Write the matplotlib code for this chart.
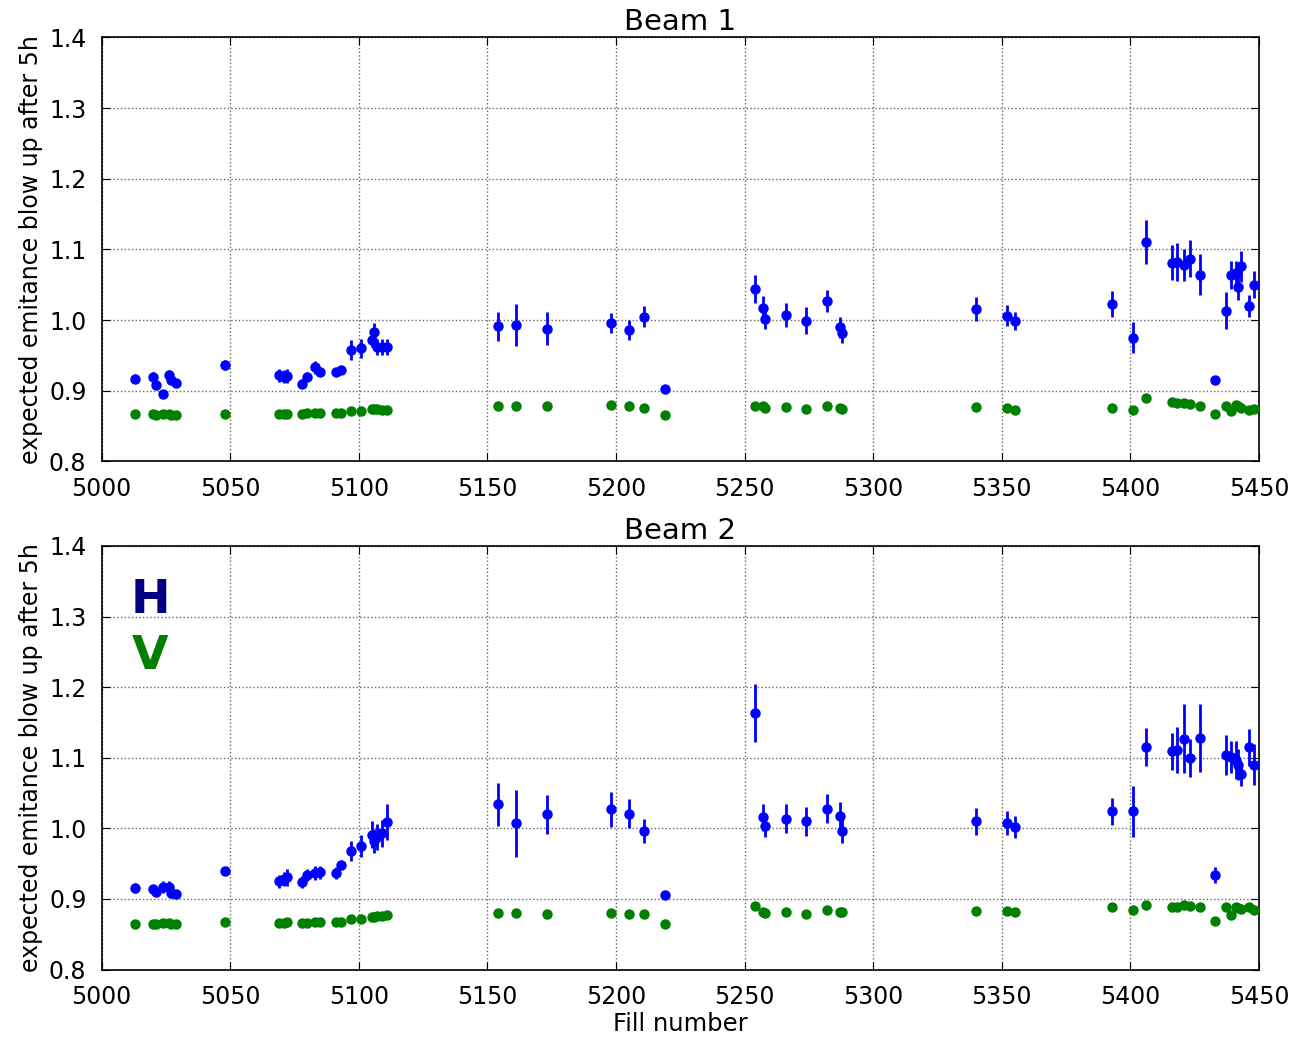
import numpy as np
import matplotlib
matplotlib.use('Agg')
import matplotlib.pyplot as plt

fills = [5013, 5020, 5021, 5024, 5026, 5027, 5029, 5048, 5069, 5071, 5072, 5078,
         5080, 5083, 5085, 5091, 5093, 5097, 5101, 5105, 5106, 5107, 5109, 5111,
         5154, 5161, 5173, 5198, 5205, 5211, 5219, 5254, 5257, 5258, 5266, 5274,
         5282, 5287, 5288, 5340, 5352, 5355, 5393, 5401, 5406, 5416, 5418, 5421,
         5423, 5427, 5433, 5437, 5439, 5441, 5442, 5443, 5446, 5448]

# beam 1
b1_h = [0.917, 0.919, 0.908, 0.896, 0.922, 0.915, 0.911, 0.937, 0.922, 0.920, 0.921, 0.910,
        0.920, 0.933, 0.927, 0.927, 0.929, 0.958, 0.960, 0.972, 0.983, 0.962, 0.962, 0.962,
        0.991, 0.993, 0.988, 0.996, 0.986, 1.005, 0.902, 1.044, 1.017, 1.001, 1.007, 0.999,
        1.027, 0.990, 0.981, 1.015, 1.006, 0.999, 1.023, 0.975, 1.111, 1.081, 1.082, 1.078,
        1.087, 1.064, 0.915, 1.013, 1.064, 1.066, 1.047, 1.076, 1.020, 1.050]
b1_h_err = [0.006, 0.007, 0.006, 0.005, 0.007, 0.006, 0.006, 0.007, 0.009, 0.009, 0.010, 0.006,
            0.006, 0.009, 0.006, 0.005, 0.005, 0.014, 0.013, 0.010, 0.013, 0.011, 0.011, 0.011,
            0.020, 0.030, 0.023, 0.014, 0.014, 0.015, 0.003, 0.020, 0.017, 0.013, 0.017, 0.019,
            0.016, 0.015, 0.013, 0.017, 0.015, 0.013, 0.018, 0.022, 0.031, 0.025, 0.027, 0.023,
            0.026, 0.029, 0.006, 0.026, 0.020, 0.017, 0.018, 0.022, 0.015, 0.019]
b1_v = [0.867, 0.867, 0.866, 0.867, 0.867, 0.866, 0.866, 0.867, 0.867, 0.867, 0.867, 0.867,
        0.868, 0.868, 0.869, 0.868, 0.869, 0.872, 0.872, 0.874, 0.874, 0.874, 0.873, 0.873,
        0.878, 0.878, 0.878, 0.880, 0.879, 0.876, 0.865, 0.879, 0.879, 0.876, 0.877, 0.874,
        0.878, 0.876, 0.874, 0.877, 0.875, 0.873, 0.876, 0.873, 0.889, 0.884, 0.883, 0.882,
        0.881, 0.879, 0.867, 0.879, 0.872, 0.880, 0.878, 0.875, 0.873, 0.874]

# beam 2
b2_h = [0.915, 0.914, 0.910, 0.917, 0.917, 0.908, 0.907, 0.940, 0.925, 0.928, 0.931, 0.924,
        0.934, 0.937, 0.938, 0.937, 0.948, 0.968, 0.975, 0.991, 0.982, 0.988, 0.993, 1.009,
        1.034, 1.007, 1.020, 1.027, 1.021, 0.997, 0.906, 1.163, 1.016, 1.003, 1.014, 1.010,
        1.028, 1.017, 0.997, 1.010, 1.008, 1.002, 1.024, 1.024, 1.115, 1.109, 1.111, 1.127,
        1.100, 1.128, 0.934, 1.104, 1.101, 1.097, 1.090, 1.077, 1.115, 1.090]
b2_h_err = [0.007, 0.006, 0.006, 0.009, 0.009, 0.007, 0.006, 0.006, 0.009, 0.010, 0.012, 0.008,
            0.009, 0.010, 0.009, 0.008, 0.007, 0.014, 0.015, 0.019, 0.017, 0.018, 0.019, 0.025,
            0.031, 0.048, 0.028, 0.025, 0.021, 0.017, 0.004, 0.041, 0.019, 0.015, 0.021, 0.021,
            0.021, 0.020, 0.017, 0.019, 0.017, 0.016, 0.019, 0.036, 0.027, 0.026, 0.032, 0.049,
            0.027, 0.048, 0.012, 0.028, 0.023, 0.027, 0.022, 0.017, 0.026, 0.029]
b2_v = [0.865, 0.865, 0.865, 0.866, 0.866, 0.865, 0.865, 0.867, 0.866, 0.866, 0.867, 0.866,
        0.866, 0.867, 0.867, 0.867, 0.868, 0.872, 0.872, 0.875, 0.875, 0.876, 0.876, 0.877,
        0.880, 0.880, 0.879, 0.880, 0.879, 0.879, 0.864, 0.890, 0.882, 0.880, 0.882, 0.879,
        0.885, 0.881, 0.881, 0.883, 0.883, 0.881, 0.888, 0.885, 0.892, 0.889, 0.889, 0.891,
        0.890, 0.889, 0.869, 0.888, 0.877, 0.888, 0.887, 0.886, 0.888, 0.885]

x_ticks = np.arange(5000, 5451, 50)
y_ticks = [0.8, 0.9, 1.0, 1.1, 1.2, 1.3, 1.4]

fig = plt.figure(figsize=(12.94, 10.38), dpi=100)
ax1 = fig.add_axes([0.0786, 0.5555, 0.8944, 0.4085])
ax2 = fig.add_axes([0.0786, 0.0659, 0.8944, 0.4081])

def drawBeam(ax, h, h_err, v, title):
    ax.errorbar(fills, h, yerr=h_err, fmt='o', color='b', ecolor='b', mec='b',
                ms=6.5, elinewidth=2, capsize=0, zorder=3)
    ax.plot(fills, v, 'o', color='g', mec='g', ms=6.5, zorder=3)
    ax.set_xlim(5000, 5450)
    ax.set_ylim(0.8, 1.4)
    ax.set_xticks(x_ticks)
    ax.set_yticks(y_ticks)
    ax.grid(True, color='k', linestyle=':', linewidth=1.0, alpha=0.6)
    ax.tick_params(direction='in', top=True, right=True, labelsize=17, length=6)
    ax.tick_params(axis='x', pad=11)
    ax.tick_params(axis='y', pad=11)
    ax.set_ylabel('expected emitance blow up after 5h', fontsize=17, labelpad=4)
    ax.set_title(title, fontsize=21, pad=5)
    for s in ax.spines.values():
        s.set_linewidth(1.2)

drawBeam(ax1, b1_h, b1_h_err, b1_v, 'Beam 1')
drawBeam(ax2, b2_h, b2_h_err, b2_v, 'Beam 2')
ax2.set_xlabel('Fill number', fontsize=17.5, labelpad=2)

ax2.text(0.0417, 0.872, 'H', transform=ax2.transAxes, color='navy', fontsize=34,
         fontweight='bold', ha='center', va='center')
ax2.text(0.0417, 0.740, 'V', transform=ax2.transAxes, color='green', fontsize=34,
         fontweight='bold', ha='center', va='center')

fig.savefig('out.png', dpi=100)
plt.close(fig)
